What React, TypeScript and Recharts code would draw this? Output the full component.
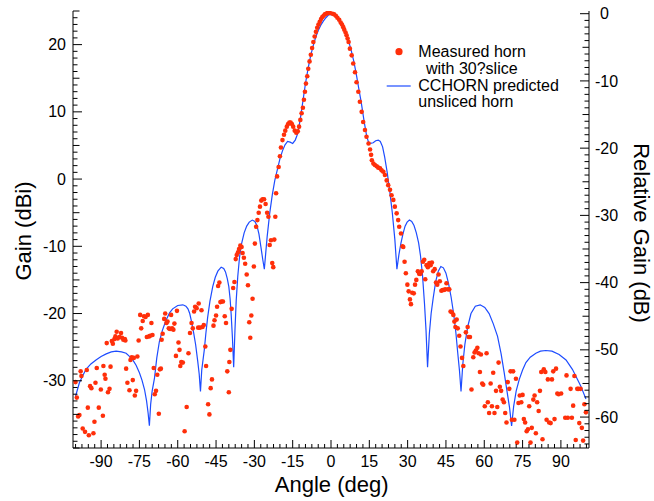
import { ComposedChart, Line, Scatter, XAxis, YAxis } from 'recharts';

// CCHORN predicted pattern of the unsliced horn, [angle deg, gain dBi]
const predictedLeft: [number, number][] = [
  [-100, -32.3], [-98.5, -30.3], [-97, -29.1], [-95.9, -28.3], [-94, -27.5], [-92, -26.9],
  [-90, -26.4], [-88, -26.0], [-86, -25.7], [-84.1, -25.6], [-82, -25.7], [-80.2, -25.9],
  [-78.8, -26.4], [-77.6, -26.9], [-76.3, -27.7], [-75, -28.8], [-74, -29.9], [-73, -31.3],
  [-72.2, -33.0], [-71.6, -34.8], [-71.1, -36.7],
  [-70.6, -33.5], [-70.0, -31.5], [-69.1, -29.6], [-68.2, -26.6], [-67.2, -24.2], [-66, -22.5],
  [-64.6, -21.0], [-63.2, -19.9], [-62, -19.3], [-60, -18.8], [-58, -18.7], [-56.8, -18.9],
  [-56, -19.3], [-55.3, -20.0], [-54.6, -21.2], [-53.8, -22.8], [-53, -24.6], [-52.2, -27.0],
  [-51.6, -29.0], [-51.1, -31.6],
  [-50.6, -28.4], [-50, -26.6], [-49.6, -25.4], [-49, -23.0], [-48.3, -20.6], [-47.4, -18.2],
  [-46.3, -16.0], [-45.3, -14.6], [-44.3, -13.7], [-43, -13.1], [-42, -13.3], [-41.3, -13.8],
  [-40.6, -14.8], [-40, -16.0], [-39.5, -17.8], [-39.1, -20.0], [-38.6, -23.5], [-38.1, -28.0],
  [-37.6, -22.5], [-37.1, -18.0], [-36.5, -14.5], [-35.8, -11.6], [-35, -9.6], [-34, -8.0],
  [-33, -7.0], [-32, -6.4], [-30.8, -6.1], [-29.8, -6.3], [-29, -6.9], [-28.2, -8.2],
  [-27.4, -10.2], [-26.7, -12.0], [-26.1, -13.4],
  [-25.6, -11.2], [-25, -8.6], [-24, -5.1], [-23, -2.4], [-22, -0.2], [-21, 1.4], [-20, 3.0],
  [-19, 4.2], [-18, 5.1], [-17, 5.6], [-16, 5.5], [-15, 5.3], [-14, 5.8], [-13, 6.8],
  [-12, 9.0], [-11, 11.6], [-10, 14.2], [-9, 16.4], [-8, 18.3], [-7, 19.8], [-6, 21.1],
  [-5, 22.1], [-4, 22.9], [-3, 23.5], [-2, 24.0], [-1, 24.4],
];

const predictedRight: [number, number][] = [
  [0, 24.5], [1, 24.4], [2, 24.1], [3, 23.6], [4, 23.0], [5, 22.2], [6, 21.4], [7, 20.4],
  [8, 19.0], [9, 17.4], [10, 15.4], [11, 13.2], [11.7, 11.7], [12, 11.0], [13, 8.5], [14, 6.3],
  [14.7, 5.5], [15.5, 5.3], [16.5, 5.4], [17.5, 5.7], [18.5, 5.8], [19.3, 5.6], [20.2, 4.8],
  [21, 3.3], [22, 1.0], [23, -1.8], [24, -5.0], [25, -9.0], [25.8, -13.4],
  [26.6, -11.2], [27.4, -9.5], [28.2, -8.1], [29, -7.0], [29.8, -6.4], [30.7, -6.1], [31.6, -6.3],
  [32.5, -6.9], [33.4, -8.0], [34.3, -9.5], [35, -11.3], [35.8, -14.2], [36.6, -18.5],
  [37.2, -22.5], [37.8, -28.0],
  [38.5, -23.0], [39.2, -20.0], [40, -17.7], [41, -15.2], [42, -13.7], [43, -13.0], [44, -13.2],
  [45, -14.0], [46, -15.5], [47, -17.5], [48, -20.0], [48.9, -22.9], [49.6, -25.8],
  [50.3, -28.5], [50.9, -31.6],
  [51.6, -27.5], [52.4, -24.6], [53.5, -22.0], [54.8, -20.0], [56.5, -18.9], [58.4, -18.7],
  [60.2, -19.1], [61.9, -20.0], [63.5, -21.5], [65.2, -23.4], [66.6, -26.0], [67.8, -28.8],
  [69, -31.8], [69.9, -34.0], [70.7, -36.7],
  [71.5, -33.8], [72.5, -31.5], [73.7, -29.8], [75, -28.4], [76.3, -27.3], [78, -26.5],
  [80.2, -25.9], [82, -25.6], [84.1, -25.5], [86.5, -25.6], [89.3, -26.1], [92, -26.9],
  [94.5, -28.3], [96.5, -29.8], [97.8, -30.8], [99.8, -32.7],
];

// measured horn with 30 deg slice, [angle deg, gain dBi]
const measuredLeft: [number, number][] = [
  [-100.0, -30.2], [-99.5, -32.5], [-99.0, -35.3], [-98.5, -35.1], [-98.0, -28.6], [-97.7, -29.3],
  [-97.2, -37.1], [-96.3, -37.6], [-95.6, -28.4], [-95.2, -34.0], [-94.8, -38.1], [-94.3, -30.8],
  [-93.8, -31.1], [-93.0, -37.8], [-92.6, -36.1], [-92.2, -30.3], [-91.7, -28.1], [-90.9, -34.0],
  [-90.1, -31.3], [-89.3, -35.2], [-89.1, -27.8], [-88.6, -29.1], [-88.3, -29.7], [-87.8, -24.4],
  [-87.3, -31.7], [-86.7, -31.2], [-86.3, -27.9], [-85.8, -24.1], [-85.4, -24.5], [-84.8, -23.8],
  [-84.4, -23.4], [-83.9, -22.7], [-83.5, -23.7], [-82.8, -23.5], [-82.2, -22.9], [-81.8, -23.6],
  [-81.3, -23.9], [-80.7, -23.8], [-80.5, -24.0], [-80.2, -28.2], [-79.7, -30.3], [-78.9, -31.4],
  [-78.5, -26.9], [-78.0, -26.5], [-77.6, -29.9], [-77.2, -26.6], [-76.8, -32.2], [-76.3, -31.5],
  [-75.8, -26.4], [-75.3, -24.0], [-74.7, -20.2], [-74.3, -22.2], [-73.7, -21.1], [-73.2, -20.4],
  [-72.6, -20.5], [-72.1, -23.5], [-71.7, -20.2], [-71.2, -23.4], [-70.8, -23.3], [-70.3, -21.4],
  [-69.9, -23.2], [-69.4, -28.1], [-69.0, -32.0], [-68.5, -31.5], [-68.0, -29.1], [-67.4, -34.9],
  [-67.0, -28.3], [-66.6, -28.2], [-66.3, -23.9], [-65.9, -23.0], [-65.3, -20.8], [-64.9, -20.0],
  [-64.4, -21.4], [-64.0, -21.2], [-63.5, -22.2], [-63.0, -22.3], [-62.6, -20.2], [-62.2, -22.2],
  [-61.7, -22.4], [-61.3, -21.5], [-60.7, -26.3], [-60.3, -19.6], [-59.7, -24.3], [-59.3, -25.4],
  [-59.0, -27.8], [-58.6, -27.2], [-58.0, -27.3], [-57.3, -37.5], [-56.5, -33.9], [-55.8, -25.9],
  [-55.2, -22.9], [-54.6, -21.4], [-54.1, -22.2], [-53.6, -19.7], [-53.2, -19.0], [-52.6, -19.2],
  [-52.0, -22.1], [-51.8, -18.5], [-51.3, -22.1], [-50.7, -19.5], [-50.3, -22.0], [-49.8, -21.7],
  [-49.2, -24.9], [-48.9, -27.8], [-48.1, -33.5], [-47.6, -35.0], [-47.1, -31.1], [-46.6, -29.8],
  [-46.0, -21.8], [-45.6, -21.0], [-45.0, -20.3], [-44.6, -19.0], [-44.2, -15.9], [-43.7, -15.4],
  [-43.3, -18.3], [-42.8, -18.2], [-42.3, -18.2], [-41.6, -20.4], [-41.1, -21.4], [-40.6, -28.6],
  [-40.0, -31.7], [-39.8, -27.2], [-39.4, -25.4], [-38.9, -19.3], [-38.3, -16.2], [-37.8, -15.3],
  [-37.3, -11.9], [-36.9, -11.3],
];

const measuredBeam: [number, number][] = [
  [-36.4, -10.9], [-36.0, -10.4], [-35.5, -9.9], [-35.0, -10.1], [-34.6, -11.0], [-34.1, -11.7],
  [-33.6, -12.6], [-33.0, -14.2], [-32.5, -15.8], [-32.0, -21.3], [-31.6, -23.6], [-31.2, -20.3],
  [-30.7, -17.8], [-30.2, -13.0], [-29.8, -9.6], [-29.3, -7.1], [-28.8, -6.1], [-28.3, -5.0],
  [-27.8, -4.1], [-27.3, -3.2], [-26.8, -3.0], [-26.2, -3.0], [-25.6, -3.7], [-25.0, -5.0],
  [-24.5, -5.6], [-24.0, -9.8], [-23.5, -9.1], [-23.0, -12.5], [-22.6, -13.1], [-22.2, -9.0],
  [-21.8, -5.6], [-21.5, -2.1], [-21.1, 0.4], [-20.5, 1.8], [-20.0, 3.4], [-19.6, 4.7],
  [-19.0, 5.8], [-18.4, 6.6], [-17.9, 7.2], [-17.3, 7.8], [-16.8, 8.2], [-16.3, 8.4],
  [-15.8, 8.4], [-15.3, 8.2], [-14.8, 7.8], [-14.2, 7.2], [-13.6, 6.9], [-13.0, 7.1],
  [-12.5, 7.8], [-12.0, 8.8], [-11.5, 9.8], [-11.0, 10.6], [-10.6, 11.8], [-10.2, 13.0],
  [-9.8, 14.2], [-9.3, 15.3], [-8.9, 16.4], [-8.4, 17.5], [-7.9, 18.5], [-7.4, 19.5],
  [-6.9, 20.4], [-6.4, 21.2], [-5.9, 21.9], [-5.4, 22.5], [-4.9, 23.0], [-4.4, 23.4],
  [-3.9, 23.8], [-3.4, 24.1], [-2.9, 24.3], [-2.4, 24.5], [-1.9, 24.6], [-1.4, 24.7],
  [-0.9, 24.7], [-0.4, 24.7],
  [0.6, 24.6], [1.2, 24.5], [1.9, 24.3], [2.5, 24.0], [3.2, 23.7], [3.8, 23.3], [4.3, 23.0],
  [4.8, 22.6], [5.2, 22.2], [5.7, 21.8], [6.1, 21.4], [6.5, 20.9], [6.9, 20.4], [7.4, 19.4],
  [8.1, 18.4], [8.7, 17.2], [9.4, 15.9], [10.0, 14.4], [10.7, 13.0], [11.3, 11.5], [12.0, 10.0],
  [12.6, 8.5], [13.3, 7.3], [13.9, 6.3], [14.7, 5.3], [15.3, 4.4], [15.7, 3.6], [16.0, 2.8],
  [16.6, 2.3], [17.2, 2.1], [17.9, 1.9], [18.5, 1.7], [19.2, 1.6], [19.8, 1.3], [20.5, 1.1],
  [21.1, 0.6], [21.8, -0.2], [22.4, -0.9], [23.1, -1.6], [23.7, -2.4], [24.4, -3.1],
  [25.0, -4.1], [25.7, -5.1], [26.3, -6.1], [26.7, -7.1], [27.4, -8.1], [28.0, -10.0],
];

const measuredRight: [number, number][] = [
  [28.3, -10.1], [28.8, -12.3], [29.3, -14.0], [29.9, -15.7], [30.4, -16.7], [30.9, -17.9],
  [31.3, -18.6], [31.8, -16.9], [32.4, -17.0], [32.9, -15.7], [33.4, -15.0], [34.0, -13.7],
  [34.5, -14.1], [35.0, -14.1], [35.5, -13.7], [36.0, -12.3], [36.5, -12.0], [36.9, -14.9],
  [37.4, -12.8], [37.9, -13.1], [38.5, -12.5], [39.0, -12.8], [39.5, -12.4], [40.0, -13.7],
  [40.6, -13.4], [41.1, -15.4], [41.6, -15.7], [42.1, -14.2], [42.6, -15.2], [43.2, -16.6],
  [43.7, -16.5], [44.2, -16.5], [44.7, -16.4], [45.2, -15.5], [45.8, -16.4], [46.3, -16.4],
  [46.8, -19.7], [47.3, -19.8], [47.9, -20.2], [48.3, -21.2], [48.7, -22.0], [49.2, -20.9],
  [49.6, -22.2], [50.2, -23.3], [50.7, -24.9], [51.3, -26.6], [51.8, -27.8], [52.8, -22.8],
  [53.5, -22.0], [53.9, -23.5], [54.4, -23.5], [55.0, -31.3], [55.7, -26.5], [56.2, -25.8],
  [56.7, -25.5], [57.3, -25.1], [57.8, -25.9], [58.3, -28.7], [58.7, -26.1], [59.2, -30.4],
  [59.6, -30.6], [60.2, -33.8], [60.9, -25.9], [61.4, -33.2], [61.9, -34.8], [62.5, -30.4],
  [63.0, -33.8], [63.5, -28.8], [64.0, -34.8], [64.6, -31.5], [65.1, -33.9], [65.6, -27.3],
  [66.1, -30.9], [66.6, -31.5], [67.2, -32.8], [67.7, -33.2], [68.2, -34.8], [68.7, -36.2],
  [69.2, -30.2], [69.8, -31.2], [70.3, -28.6], [70.8, -35.8], [71.3, -28.6], [71.8, -35.8],
  [72.4, -29.7], [72.9, -39.2], [73.4, -33.3], [73.9, -32.2], [74.5, -33.2], [75.0, -32.1],
  [75.5, -35.7], [76.0, -36.2], [76.6, -37.5], [77.1, -37.2], [77.6, -33.8], [78.1, -39.2],
  [78.6, -37.0], [79.2, -32.8], [79.7, -32.2], [80.2, -37.8], [80.7, -33.2], [81.3, -34.5],
  [81.8, -31.5], [82.3, -28.7], [82.8, -38.7], [83.3, -28.3], [83.9, -28.7], [84.4, -35.8],
  [84.9, -29.8], [85.4, -36.2], [86.0, -36.3], [86.5, -29.8], [87.0, -28.6], [87.5, -35.7],
  [88.1, -28.2], [88.6, -31.9], [89.1, -32.0], [90.1, -31.9], [91.7, -35.5], [92.2, -29.2],
  [92.7, -35.5], [93.8, -31.2], [94.3, -35.5], [94.8, -33.7], [95.3, -29.3], [95.8, -38.8],
  [96.4, -31.2], [96.9, -31.2], [97.2, -36.3], [97.7, -31.2], [98.2, -37.0], [98.7, -38.9],
  [99.2, -33.5], [99.8, -34.7],
];

const angleLabels = [-90, -75, -60, -45, -30, -15, 0, 15, 30, 45, 60, 75, 90];
const gainLabels = [-30, -20, -10, 0, 10, 20];
const relativeLabels = [0, -10, -20, -30, -40, -50, -60];
const legendLines = ['Measured horn', 'with 30?slice', 'CCHORN predicted', 'unsliced horn'];

const predicted = [...predictedLeft, ...predictedRight].map(([a, g]) => ({ a, g }));
const measured = [...measuredLeft, ...measuredBeam, ...measuredRight].map(([a, g]) => ({ a, g }));

const angleMinor: number[] = [];
for (let v = -100; v <= 100; v += 2.5) angleMinor.push(v);
const gainMinor: number[] = [];
for (let v = -40; v <= 25; v += 1) gainMinor.push(v);
const relativeMinor: number[] = [];
for (let v = -64; v <= 0; v += 1) relativeMinor.push(v);

const FONT = '"Liberation Sans", Arial, Helvetica, sans-serif';
const RED = '#ff2f0a';
const BLUE = '#1d4cff';

const BottomTick = ({ x, y, payload }: any) => {
  const v = payload.value;
  const major = angleLabels.includes(v);
  return (
    <g>
      <line x1={x} x2={x} y1={y} y2={y - (major ? 8 : 4)} stroke="#000" />
      {major && (
        <text x={x} y={y + 18.5} textAnchor="middle" fontSize={16} fill="#000">
          {v}
        </text>
      )}
    </g>
  );
};

const TopTick = ({ x, y, payload }: any) => {
  const major = angleLabels.includes(payload.value);
  return <line x1={x} x2={x} y1={y} y2={y + (major ? 8 : 4)} stroke="#000" />;
};

const LeftTick = ({ x, y, payload }: any) => {
  const v = payload.value;
  const major = gainLabels.includes(v);
  const len = major ? 9 : v % 5 === 0 ? 6.5 : 4.5;
  return (
    <g>
      <line x1={x} x2={x + len} y1={y} y2={y} stroke="#000" />
      {major && (
        <text x={x - 7} y={y + 5.6} textAnchor="end" fontSize={16} fill="#000">
          {v}
        </text>
      )}
    </g>
  );
};

const RightTick = ({ x, y, payload }: any) => {
  const v = payload.value;
  const major = relativeLabels.includes(v);
  const len = major ? 9 : v % 5 === 0 ? 6.5 : 4.5;
  return (
    <g>
      <line x1={x} x2={x - len} y1={y} y2={y} stroke="#000" />
      {major && (
        <text x={x + (v === 0 ? 11 : 6)} y={y + 5.6} textAnchor="start" fontSize={16} fill="#000">
          {v}
        </text>
      )}
    </g>
  );
};

const AngleTitle = () => (
  <text x={331.7} y={492} textAnchor="middle" fontSize={22} fill="#000">
    Angle (deg)
  </text>
);

const GainTitle = () => (
  <text x={23.5} y={231} transform="rotate(-90 23.5 231)" textAnchor="middle" dominantBaseline="central" fontSize={22} fill="#000">
    Gain (dBi)
  </text>
);

const RelativeTitle = () => (
  <text x={641} y={233} transform="rotate(90 641 233)" textAnchor="middle" dominantBaseline="central" fontSize={22} fill="#000">
    Relative Gain (dB)
  </text>
);

const Dot = ({ cx, cy }: any) => <circle cx={cx} cy={cy} r={2.3} fill={RED} />;

export default function App() {
  return (
    <div style={{ position: 'absolute', left: 0, top: 0, width: 654, height: 501, background: '#fff', fontFamily: FONT }}>
      <ComposedChart width={654} height={501} margin={{ top: 11, right: 0, bottom: 0, left: 0 }}>
        <XAxis
          xAxisId="b" dataKey="a" type="number" domain={[-101, 101]} ticks={angleMinor} interval={0}
          height={53} tickSize={0} tickMargin={0} tickLine={false} tick={<BottomTick />}
          axisLine={{ stroke: '#000' }} label={<AngleTitle />}
        />
        <XAxis
          xAxisId="t" orientation="top" dataKey="a" type="number" domain={[-101, 101]} ticks={angleMinor}
          interval={0} height={0} tickSize={0} tickMargin={0} tickLine={false} tick={<TopTick />}
          axisLine={{ stroke: '#000' }}
        />
        <YAxis
          yAxisId="l" dataKey="g" type="number" domain={[-40, 25]} ticks={gainMinor} interval={0}
          width={73} tickSize={0} tickMargin={0} tickLine={false} tick={<LeftTick />}
          axisLine={{ stroke: '#000' }} label={<GainTitle />} allowDataOverflow
        />
        <YAxis
          yAxisId="r" orientation="right" type="number" domain={[-64.6, 0.4]} ticks={relativeMinor}
          interval={0} width={65} tickSize={0} tickMargin={0} tickLine={false} tick={<RightTick />}
          axisLine={{ stroke: '#000' }} label={<RelativeTitle />} allowDataOverflow
        />
        <Scatter
          xAxisId="b" yAxisId="l" data={measured} dataKey="g" shape={<Dot />} isAnimationActive={false}
        />
        <Line
          xAxisId="b" yAxisId="l" data={predicted} dataKey="g" type="linear" stroke={BLUE}
          strokeWidth={1.2} dot={false} activeDot={false} isAnimationActive={false}
        />
      </ComposedChart>
      <svg width={654} height={501} style={{ position: 'absolute', left: 0, top: 0, pointerEvents: 'none' }}>
        <circle cx={399} cy={51.7} r={3.6} fill={RED} />
        <line x1={386.7} x2={410.7} y1={86} y2={86} stroke={BLUE} strokeWidth={1.2} />
        <text x={418.3} y={56.5} fontSize={16} fill="#000">{legendLines[0]}</text>
        <text x={426} y={73.5} fontSize={16} fill="#000">{legendLines[1]}</text>
        <text x={418.3} y={90.5} fontSize={16} fill="#000">{legendLines[2]}</text>
        <text x={418.3} y={107} fontSize={16} fill="#000">{legendLines[3]}</text>
      </svg>
    </div>
  );
}
